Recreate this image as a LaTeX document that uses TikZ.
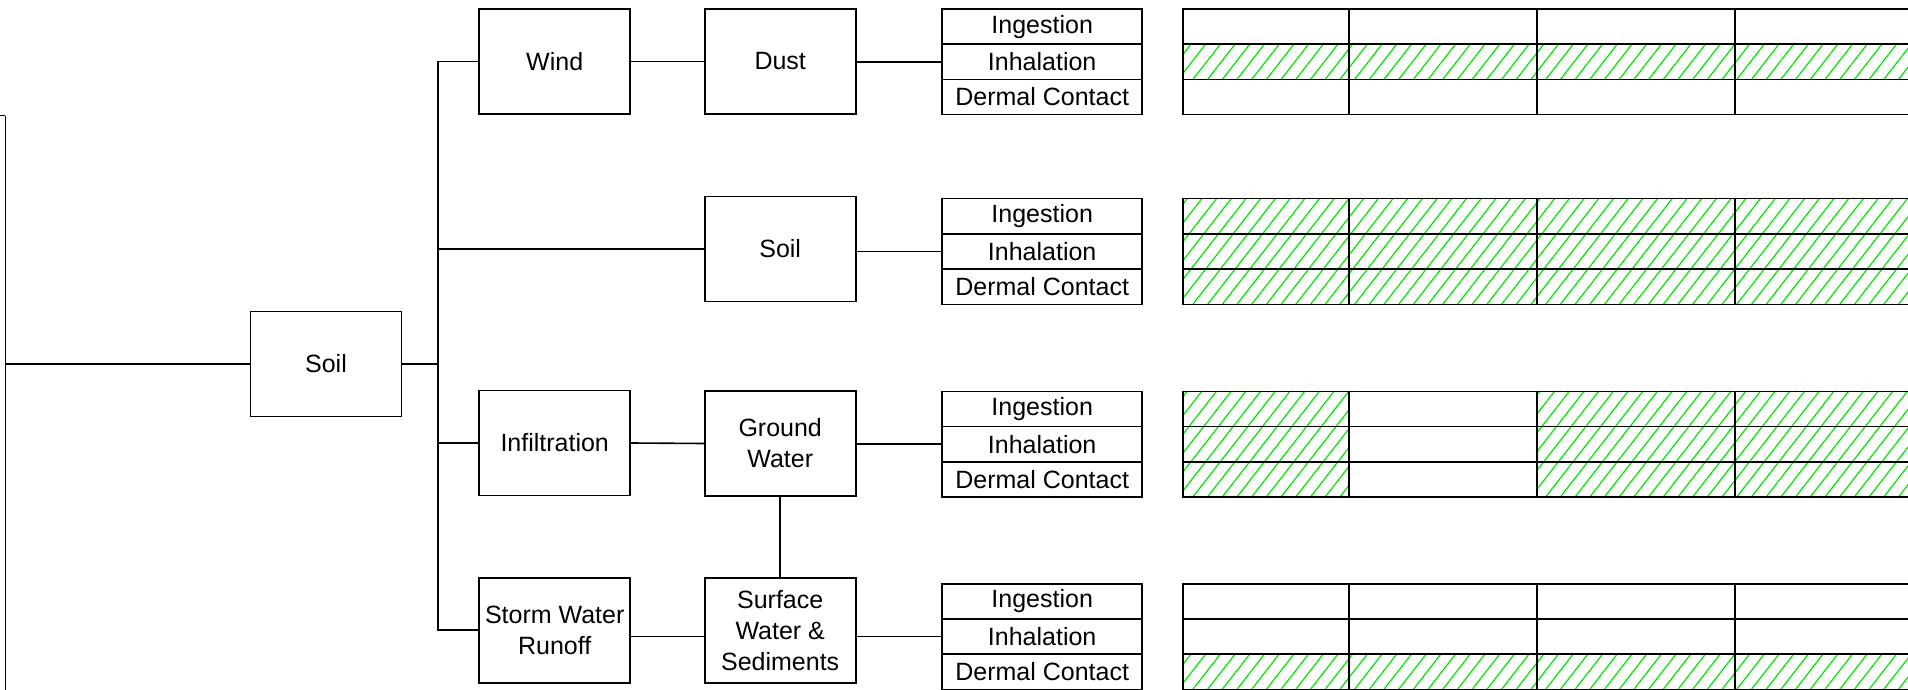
\documentclass[tikz,border=0pt]{standalone}
\usepackage{fontspec}
\setmainfont{Liberation Sans}
\usetikzlibrary{positioning}
\definecolor{hatchgreen}{RGB}{0,230,0}
\newcommand{\hatchbox}[4]{%
  \begin{scope}
    \clip (#1,#2) rectangle (#3,#4);
    \foreach \hx in {1090,1104.7,...,1920}
      \draw[hatchgreen, line width=0.6pt] (\hx,#4) -- ({\hx+0.78*(#4-#2)},#2);
  \end{scope}}

\begin{document}
\begin{tikzpicture}[x=0.5pt, y=-0.5pt, line width=0.8pt,
  box/.style={draw, minimum width=75.5pt, minimum height=52.5pt, inner sep=1pt, align=center, font=\fontsize{12.5}{15.5}\selectfont},
  route/.style={draw, minimum width=100pt, minimum height=17.6pt, inner sep=0pt, font=\fontsize{12.5}{15}\selectfont}
]
  \useasboundingbox (0,0) rectangle (1908,690);
  \clip (0,0) rectangle (1908,690);

  % source and pathways
  \node[box] (soil) at (326,364) {Soil};
  \node[box] (wind) at (554.7,61.5) {Wind};
  \node[box] (infil) at (554.7,443) {Infiltration};
  \node[box] (storm) at (554.7,630.2) {Storm Water\\Runoff};

  \node[box] (dust) at (780.2,61.5) {Dust};
  \node[box] (soilmed) at (780.2,249) {Soil};
  \node[box] (gw) at (780.2,443.5) {Ground\\Water};
  \node[box] (sw) at (780.2,630.5) {Surface\\Water \&\\Sediments};

  % exposure routes
  \node[route] (dustIng) at (1042.2,26.6) {Ingestion};
  \node[route] (dustInh) at (1042.2,61.8) {Inhalation};
  \node[route] (dustDer) at (1042.2,97.0) {Dermal Contact};

  \node[route] (soilIng) at (1042.2,216.3) {Ingestion};
  \node[route] (soilInh) at (1042.2,251.5) {Inhalation};
  \node[route] (soilDer) at (1042.2,286.7) {Dermal Contact};

  \node[route] (gwIng) at (1042.2,408.9) {Ingestion};
  \node[route] (gwInh) at (1042.2,444.1) {Inhalation};
  \node[route] (gwDer) at (1042.2,479.3) {Dermal Contact};

  \node[route] (swIng) at (1042.2,601.3) {Ingestion};
  \node[route] (swInh) at (1042.2,636.5) {Inhalation};
  \node[route] (swDer) at (1042.2,671.7) {Dermal Contact};

  % connectors
  \coordinate (feedtop) at (5.4,115.7);
  \coordinate (feed) at (5.4,364);
  \coordinate (feedend) at (5.4,700);
  \coordinate (bus) at (438,364);

  \draw (feedtop) -- ++(-12,0);
  \draw (feedtop) -- (feedend);
  \draw (feed) -- (soil.west);
  \draw (soil.east) -- (bus);
  \draw (bus) |- (wind.west);
  \draw (bus) |- (soilmed.west);
  \draw (bus) |- (infil.west);
  \draw (bus) |- (storm.west);

  \draw (wind.east) -- (dust.west);
  \draw (infil.east) -- (gw.west);
  \draw (storm.east |- swInh.west) -- (sw.west |- swInh.west);
  \draw (gw.south) -- (sw.north);

  \draw (dust.east |- dustInh.west) -- (dustInh.west);
  \draw (soilmed.east |- soilInh.west) -- (soilInh.west);
  \draw (gw.east |- gwInh.west) -- (gwInh.west);
  \draw (sw.east |- swInh.west) -- (swInh.west);

  % results grid, dust
  \hatchbox{1183}{44.2}{1920}{79.4}
  \draw (1183,9) rectangle (1920,114.6);
  \draw (1183,44.2) -- (1920,44.2) (1183,79.4) -- (1920,79.4);
  \draw (1349,9) -- (1349,114.6) (1537,9) -- (1537,114.6) (1735,9) -- (1735,114.6);

  % results grid, soil
  \hatchbox{1183}{198.7}{1920}{304.3}
  \draw (1183,198.7) rectangle (1920,304.3);
  \draw (1183,233.9) -- (1920,233.9) (1183,269.1) -- (1920,269.1);
  \draw (1349,198.7) -- (1349,304.3) (1537,198.7) -- (1537,304.3) (1735,198.7) -- (1735,304.3);

  % results grid, ground water
  \hatchbox{1183}{391.3}{1349}{496.9}
  \hatchbox{1537}{391.3}{1920}{496.9}
  \draw (1183,391.3) rectangle (1920,496.9);
  \draw (1183,426.5) -- (1920,426.5) (1183,461.7) -- (1920,461.7);
  \draw (1349,391.3) -- (1349,496.9) (1537,391.3) -- (1537,496.9) (1735,391.3) -- (1735,496.9);

  % results grid, surface water
  \hatchbox{1183}{654.1}{1920}{689.3}
  \draw (1183,583.7) rectangle (1920,689.3);
  \draw (1183,618.9) -- (1920,618.9) (1183,654.1) -- (1920,654.1);
  \draw (1349,583.7) -- (1349,689.3) (1537,583.7) -- (1537,689.3) (1735,583.7) -- (1735,689.3);
\end{tikzpicture}
\end{document}
